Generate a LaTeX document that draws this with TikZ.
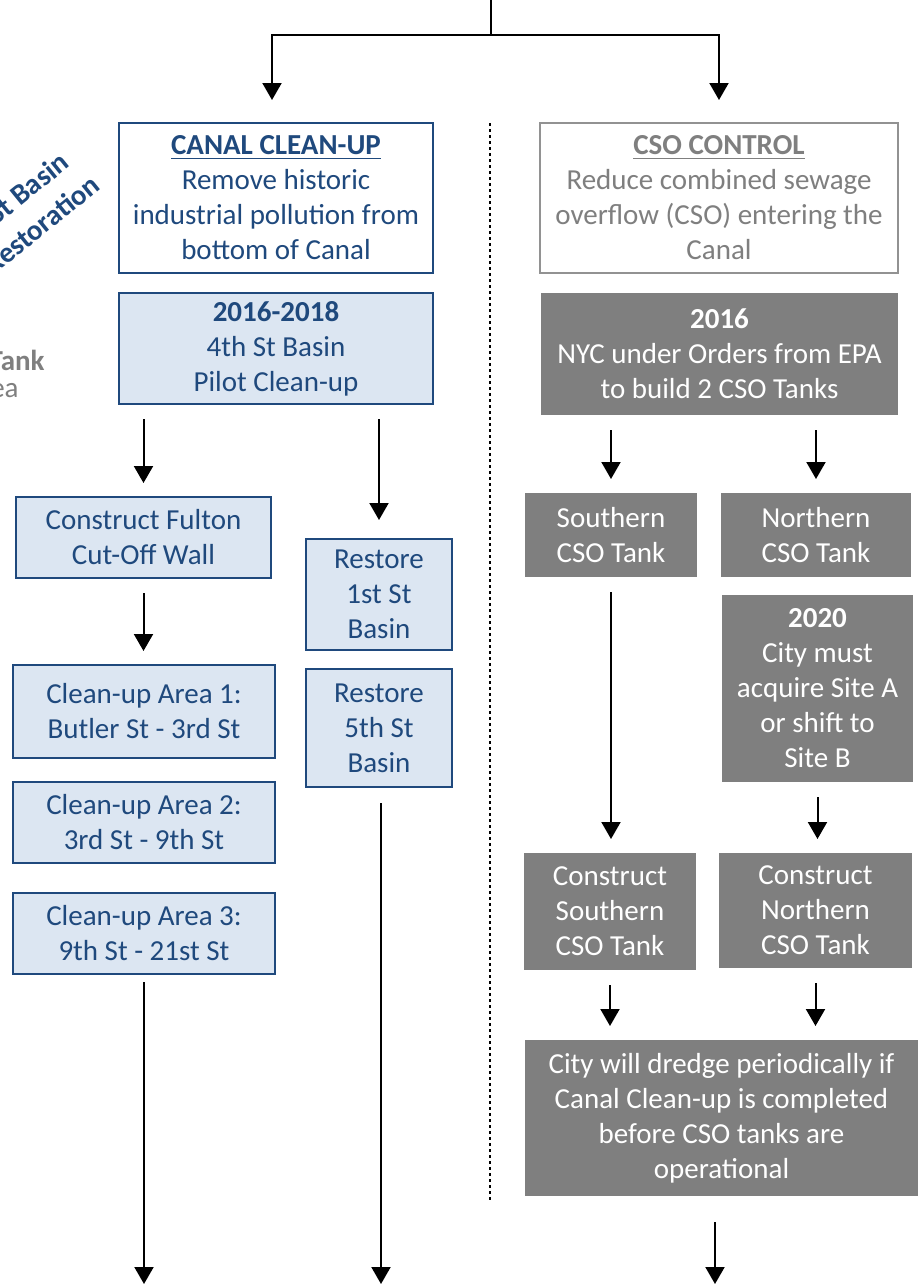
\documentclass[tikz,border=0pt]{standalone}
\usepackage{fontspec}
\setmainfont{Carlito}
\usepackage{tikz}
\usetikzlibrary{arrows.meta, positioning}
\definecolor{canalblue}{HTML}{1F497D}
\definecolor{canalfill}{HTML}{DCE6F2}
\definecolor{csogray}{HTML}{7F7F7F}
\tikzset{>/.tip={Triangle[width=9.5pt,length=8.5pt]}}
\tikzset{
  box/.style={inner sep=0pt, outer sep=0pt, align=center, font=\fontsize{14.5}{17.5}\selectfont},
  blueframe/.style={box, draw=canalblue, line width=1.2pt, fill=white, text=canalblue},
  bluebox/.style={blueframe, fill=canalfill},
  grayframe/.style={box, draw=csogray!85, line width=1.2pt, fill=white, text=csogray},
  graybox/.style={box, fill=csogray, text=white},
  arr/.style={->, line width=1pt, shorten <=7.5pt, shorten >=7pt},
}

\begin{document}
\begin{tikzpicture}[x=0.5pt, y=-0.5pt]
  \useasboundingbox (0,0) rectangle (923,1287);
  \begin{scope}
  \clip (0,0) rectangle (923,1287);
  % notes cut off at the left edge
  \node(basin) [rotate=39, anchor=east, align=right, inner sep=0pt, text=canalblue, font=\bfseries\fontsize{14.5}{18.5}\selectfont] at (84,166) {St Basin\hspace*{5pt}\\Restoration};
  \node(tank) [anchor=base east, inner sep=0pt, text=csogray, font=\bfseries\fontsize{14.5}{17.5}\selectfont] at (45,370) {CSO Tank};
  \node(area) [anchor=base east, inner sep=0pt, text=csogray, font=\fontsize{14.5}{17.5}\selectfont] at (19,397) {Area};
  \end{scope}

  % canal clean-up side
  \node(canal) [blueframe, minimum width=157pt, minimum height=75pt] at (276,198)
    {\underline{\textbf{CANAL CLEAN-UP}}\\Remove historic\\industrial pollution from\\bottom of Canal};
  \node(pilot) [bluebox, minimum width=157pt, minimum height=55.5pt] at (276,348.5)
    {\textbf{2016-2018}\\4th St Basin\\Pilot Clean-up};
  \node(fulton) [bluebox, minimum width=127.5pt, minimum height=40.5pt] at (143.5,537.5)
    {Construct Fulton\\Cut-Off Wall};
  \node(area1) [bluebox, minimum width=131pt, minimum height=46.5pt] at (144,711.5)
    {Clean-up Area 1:\\Butler St - 3rd St};
  \node(area2) [bluebox, minimum width=131pt, minimum height=40.5pt] at (144,822.5)
    {Clean-up Area 2:\\3rd St - 9th St};
  \node(area3) [bluebox, minimum width=131pt, minimum height=40.5pt] at (144,933.5)
    {Clean-up Area 3:\\9th St - 21st St};
  \node(rest1) [bluebox, minimum width=73pt, minimum height=55.5pt] at (379,594.5)
    {Restore\\1st St\\Basin};
  \node(rest5) [bluebox, minimum width=73pt, minimum height=59pt] at (379,728)
    {Restore\\5th St\\Basin};

  % cso control side
  \node(cso) [grayframe, minimum width=179pt, minimum height=75pt] at (719,198)
    {\underline{\textbf{CSO CONTROL}}\\Reduce combined sewage\\overflow (CSO) entering the\\Canal};
  \node(orders) [graybox, minimum width=178.5pt, minimum height=61pt] at (719.5,354)
    {\textbf{2016}\\NYC under Orders from EPA\\to build 2 CSO Tanks};
  \node(south) [graybox, minimum width=86pt, minimum height=42pt] at (611,535)
    {Southern\\CSO Tank};
  \node(north) [graybox, minimum width=95pt, minimum height=42pt] at (816,535)
    {Northern\\CSO Tank};
  \node(site) [graybox, minimum width=95.5pt, minimum height=93.5pt] at (817.5,688.5)
    {\textbf{2020}\\City must\\acquire Site A\\or shift to\\Site B};
  \node(csouth) [graybox, minimum width=86pt, minimum height=58.5pt] at (610,911.5)
    {Construct\\Southern\\CSO Tank};
  \node(cnorth) [graybox, minimum width=96.5pt, minimum height=57.5pt] at (815.5,910.5)
    {Construct\\Northern\\CSO Tank};
  \node(dredge) [graybox, minimum width=196.5pt, minimum height=78pt] at (721.5,1118)
    {City will dredge periodically if\\Canal Clean-up is completed\\before CSO tanks are\\operational};

  \coordinate(top) at (491,0);
  \coordinate(split) at (491,35);
  \coordinate(septop) at (490,123);
  \coordinate(sepbot) at (490,1202);
  \coordinate(endl) at (144,1284);
  \coordinate(endm) at (381,1284);
  \coordinate(endr) at (715,1284);

  \draw[line width=1pt] (top) -- (split);
  \draw[->, line width=1pt, shorten >=11.5pt] (split) -| ([xshift=-2pt]canal.north);
  \draw[->, line width=1pt, shorten >=11.5pt] (split) -| (cso.north);
  \draw[line width=1.3pt, dash pattern=on 1.5pt off 1.5pt] (septop) -- (sepbot);

  \draw[arr] (pilot.south -| fulton) -- (fulton);
  \draw[arr, shorten >=9.5pt] (pilot.south -| rest1) -- (rest1);
  \draw[arr] (fulton.south) -- (fulton.south |- area1.north);
  \draw[arr, shorten >=0pt, shorten <=4pt] (area3.south) -- (endl);
  \draw[arr, shorten >=0pt, shorten <=8pt] (rest5.south -| endm) -- (endm);
  \draw[arr] (orders.south -| south) -- (south);
  \draw[arr] (orders.south -| north) -- (north);
  \draw[arr] (south.south) -- (south.south |- csouth.north);
  \draw[arr] (site.south) -- (site.south |- cnorth.north);
  \draw[arr] (csouth.south) -- (csouth.south |- dredge.north);
  \draw[arr] (cnorth.south) -- (cnorth.south |- dredge.north);
  \draw[arr, shorten >=0pt, shorten <=13pt] (dredge.south -| endr) -- (endr);
\end{tikzpicture}
\end{document}
